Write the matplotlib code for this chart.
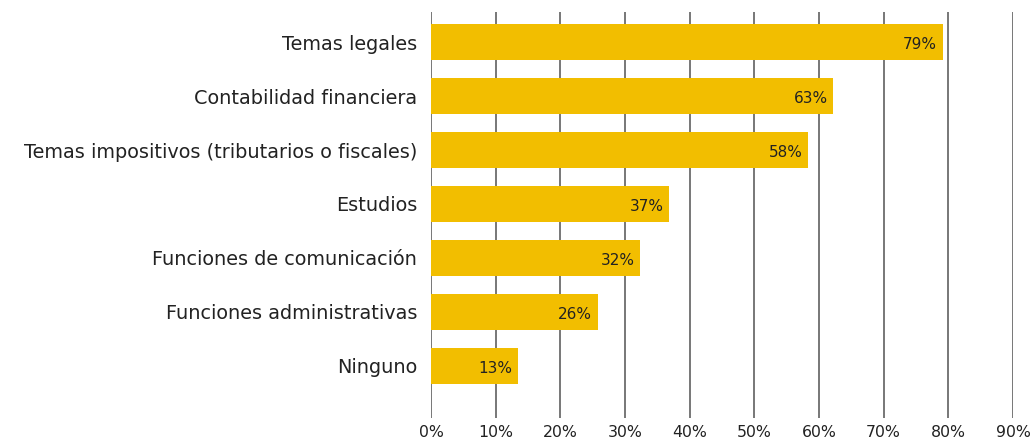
import matplotlib
matplotlib.use('Agg')
import matplotlib.pyplot as plt

categorias = ['Temas legales', 'Contabilidad financiera',
              'Temas impositivos (tributarios o fiscales)', 'Estudios',
              'Funciones de comunicación', 'Funciones administrativas', 'Ninguno']
valores = [79.1, 62.2, 58.3, 36.8, 32.4, 25.8, 13.4]
etiquetas = ['79%', '63%', '58%', '37%', '32%', '26%', '13%']
ticks = [0, 10, 20, 30, 40, 50, 60, 70, 80, 90]

plt.rcParams['font.family'] = ['DejaVu Sans']

fig = plt.figure(figsize=(10.3, 4.41), dpi=100)
ax = fig.add_axes([0.4184, 0.0522, 0.5651, 0.9206])

pos = list(range(len(categorias)))
ax.barh(pos, valores, height=0.67, color='#F2BE00', zorder=2)

# etiquetas de valor dentro de la barra
for p, v, e in zip(pos, valores, etiquetas):
    ax.annotate(e, (v, p), xytext=(-4, -2), textcoords='offset points',
                ha='right', va='center', fontsize=11, color='#222222', zorder=3)

ax.set_xlim(0, 90)
ax.set_ylim(6.963, -0.556)
ax.set_xticks(ticks)
ax.set_xticklabels([f'{t}%' for t in ticks], fontsize=11.3, color='#222222')
ax.set_yticks(pos)
ax.set_yticklabels(categorias, fontsize=13.9, color='#222222')
ax.tick_params(axis='both', length=0)
ax.tick_params(axis='y', pad=10)
ax.tick_params(axis='x', pad=5)

for t in ticks:
    ax.axvline(t, color='#777777', linewidth=1.4, zorder=1)

for s in ax.spines.values():
    s.set_visible(False)

fig.savefig('out.png', dpi=100)
